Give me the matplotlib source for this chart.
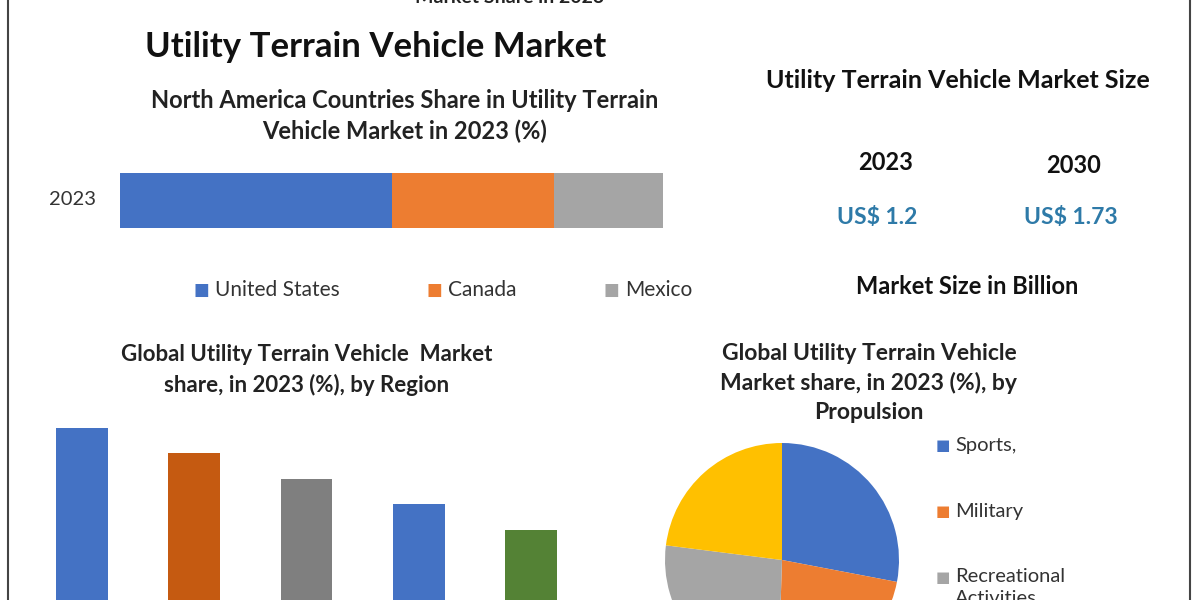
import matplotlib.pyplot as plt
from matplotlib.lines import Line2D

plt.rcParams['font.family'] = ['Lato', 'DejaVu Sans']

# North America shares (%)
na_countries = ["United States", "Canada", "Mexico"]
na_share = [50, 30, 20]
na_colors = ["#4472C4", "#ED7D31", "#A5A5A5"]

# market size (USD billion)
size_years = ["2023", "2030"]
size_values = ["US$ 1.2", "US$ 1.73"]

# regional share (%)
regions = ["North America", "Europe", "Asia Pacific", "Middle East & Africa", "South America"]
region_share = [35, 30, 25, 20, 15]
region_colors = ["#4472C4", "#C55A11", "#7F7F7F", "#4472C4", "#548235"]

# propulsion share (%)
propulsion = ["Sports,", "Military", "Recreational\nActivities", "Agriculture"]
propulsion_share = [28, 22.5, 26.5, 23]
propulsion_colors = ["#4472C4", "#ED7D31", "#A5A5A5", "#FFC000"]

W, H = 1200, 600


def px(x0, y0, x1, y1):
    return [x0 / W, 1 - y1 / H, (x1 - x0) / W, (y1 - y0) / H]


def fx(x):
    return x / W


def fy(y):
    return 1 - y / H


fig = plt.figure(figsize=(12, 6), dpi=100)
fig.patch.set_facecolor("white")

# frame lines at the sides
fig.add_artist(Line2D([fx(8), fx(8)], [0, 1], color="#444444", lw=1.5))
fig.add_artist(Line2D([fx(1190), fx(1190)], [0, 1], color="#444444", lw=1.5))

# cut-off heading at the very top
fig.text(fx(510), fy(-3), "Market Share in 2023", ha="center", va="center",
         fontsize=14, fontweight="bold", color="#222222")

fig.text(fx(376), fy(47), "Utility Terrain Vehicle Market", ha="center", va="center",
         fontsize=25, fontweight="bold", color="#111111")
fig.text(fx(405), fy(116), "North America Countries Share in Utility Terrain\nVehicle Market in 2023 (%)",
         ha="center", va="center", fontsize=17, fontweight="bold", color="#222222",
         linespacing=1.35)

# stacked horizontal bar
ax1 = fig.add_axes(px(120, 173, 663, 228))
left = 0
for name, v, c in zip(na_countries, na_share, na_colors):
    ax1.barh(0, v, left=left, height=1, color=c, label=name)
    left += v
ax1.set_xlim(0, sum(na_share))
ax1.set_ylim(-0.5, 0.5)
ax1.axis("off")
fig.text(fx(73), fy(200), "2023", ha="center", va="center", fontsize=14.5, color="#333333")

leg_x = [201, 434, 611]
for x, name, c in zip(leg_x, na_countries, na_colors):
    fig.text(fx(x), fy(290), "\u25A0", ha="center", va="center", fontsize=12, color=c,
             family="DejaVu Sans")
    fig.text(fx(x + 14), fy(290), name, ha="left", va="center", fontsize=15, color="#333333")

# market size panel
fig.text(fx(958), fy(81), "Utility Terrain Vehicle Market Size", ha="center", va="center",
         fontsize=18, fontweight="bold", color="#111111")
for x, y, yr, val, vx in zip([886, 1074], [162, 166], size_years, size_values, [877, 1071]):
    fig.text(fx(x), fy(y), yr, ha="center", va="center", fontsize=17, fontweight="bold",
             color="#111111")
    fig.text(fx(vx), fy(218), val, ha="center", va="center",
             fontsize=16.5, fontweight="bold", color="#2E7AA8")
fig.text(fx(967), fy(286), "Market Size in Billion", ha="center", va="center",
         fontsize=17, fontweight="bold", color="#111111")

# regional bars
fig.text(fx(307), fy(370), "Global Utility Terrain Vehicle  Market\nshare, in 2023 (%), by Region",
         ha="center", va="center", fontsize=16, fontweight="bold", color="#222222",
         linespacing=1.45)
ax2 = fig.add_axes(px(26, 400, 587, 606))
ax2.bar(range(len(regions)), region_share, width=0.46, color=region_colors)
ax2.set_xlim(-0.5, len(regions) - 0.5)
ax2.set_ylim(0, 40.4)
ax2.axis("off")

# propulsion pie
fig.text(fx(869), fy(383), "Global Utility Terrain Vehicle\nMarket share, in 2023 (%), by\nPropulsion",
         ha="center", va="center", fontsize=16.5, fontweight="bold", color="#222222",
         linespacing=1.45)
ax3 = fig.add_axes(px(665, 443, 899, 677))
ax3.pie(propulsion_share, colors=propulsion_colors, startangle=90, counterclock=False,
        radius=1)
ax3.set_xlim(-1, 1)
ax3.set_ylim(-1, 1)
ax3.set_aspect("equal")
ax3.axis("off")

for i, (name, c) in enumerate(zip(propulsion, propulsion_colors)):
    y = 445 + 66 * i
    fig.text(fx(943), fy(y), "\u25A0", ha="center", va="center", fontsize=11, color=c,
             family="DejaVu Sans")
    fig.text(fx(955), fy(y - 9 if "\n" in name else y), name, ha="left",
             va="top" if "\n" in name else "center",
             fontsize=14.5, color="#333333", linespacing=1.35)

fig.savefig("out.png", dpi=100)
